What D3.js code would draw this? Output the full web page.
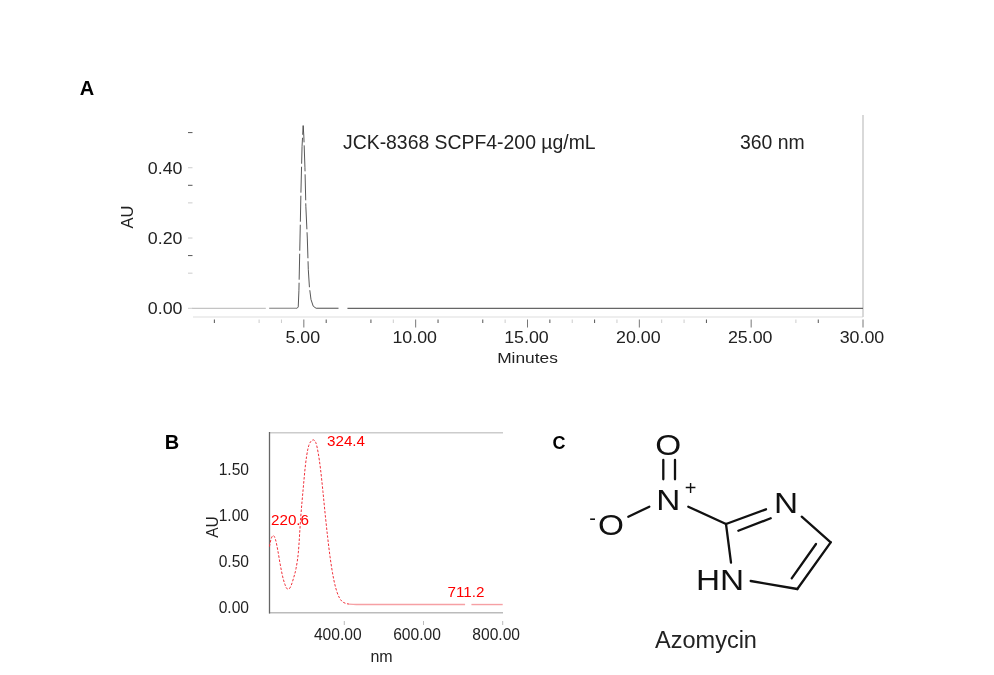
<!DOCTYPE html>
<html><head><meta charset="utf-8">
<script src="https://cdn.jsdelivr.net/npm/d3@7"></script>
<style>html,body{margin:0;background:#fff}svg{display:block;filter:blur(0.35px)}text{font-family:"Liberation Sans",Arial,sans-serif;fill:#222}</style>
</head><body><svg id="c" width="994" height="675"></svg>
<script>
// Panel A: chromatogram (minutes, AU)
const chromBaseLeft = [[0,0],[3.3,0]];
const chromBaseMid = [[3.45,0],[3.6,0],[4.2,0],[4.7,0]];
const chromPeak = [[4.7,0],[4.75,0.004],[4.78,0.05],[4.83,0.2],[4.87,0.33],[4.92,0.46],[4.97,0.52],[5.0,0.49],[5.05,0.4],[5.09,0.29],[5.155,0.2],[5.2,0.11],[5.25,0.06],[5.32,0.025],[5.42,0.006],[5.55,0]];
const chromBaseNear = [[5.55,0],[6.55,0]];
const chromBaseRight = [[6.95,0],[10,0],[15,0],[20,0],[25,0],[30,0]];
const timeLabels = [5,10,15,20,25,30];
const timeDark = [1,6,8,11,13,16,18,23,28];
const timeFaint = [3,4,9,14,17,19,21,22,27];
const auLabels = [0,0.2,0.4];
const auDark = [0.5,0.35,0.15];
const auFaint = [0.3,0.1];
// Panel B: UV spectrum (nm, AU)
const spectrumPeaks = [[211,0.66],[215,0.74],[220.6,0.78],[226,0.74],[232,0.62],[238,0.47],[244,0.34],[250,0.25],[256,0.2],[260,0.2],[266,0.24],[272,0.32],[278,0.42],[284,0.6],[290,0.98],[296,1.28],[302,1.55],[308,1.72],[315,1.8],[322,1.82],[328,1.79],[334,1.68],[340,1.5],[346,1.26],[352,1.0],[358,0.76],[364,0.55],[370,0.38],[376,0.25],[382,0.16],[388,0.1],[394,0.065],[402,0.045],[412,0.035]];
const spectrumTailA = [[412,0.035],[430,0.03],[500,0.03],[600,0.03],[705,0.03]];
const spectrumTailB = [[721,0.03],[760,0.03],[800,0.03]];
const nmLabels = [400,600,800];
const specLabels = [["220.6",220.6,0.89,"start"],["324.4",324.4,1.75,"start"],["711.2",711.2,0.115,"middle"]];
const specAuLabels = [0,0.5,1,1.5];
// Panel C: azomycin, in drawing units
const atoms = [["O",668.3,445],["N",668.3,500],["O",611,525],["N",786,503],["HN",720,579.5]];
const charges = [["+",690.5,488],["-",592.5,518]];
const bonds = [[663.3,460,663.3,479.3],[675,460,675,479.3],[628.3,516.7,649.3,506.7],[688.3,506.7,726,524],[726,524,766,509.3],[738.3,530.7,770.7,518.3],[726,524,731,562.7],[801.7,516.7,830.7,542.3],[830.7,542.3,797.3,589],[816,544,791.7,578.3],[750.7,581,797.3,589]];
const panelLetters = [["A",87,88,20],["B",172,442,20],["C",559,442,18]];

const svg = d3.select("#c");
const x = d3.scaleLinear().domain([0,30]).range([192,863]);
const y = d3.scaleLinear().domain([0,0.5]).range([308.3,132.6]);
const line = d3.line().x(d=>x(d[0])).y(d=>y(d[1]));
svg.append("line").attr("x1",193).attr("x2",863).attr("y1",317).attr("y2",317).attr("stroke","#ddd").attr("stroke-width",1.2);
svg.append("line").attr("x1",863).attr("x2",863).attr("y1",115).attr("y2",317).attr("stroke","#ccc").attr("stroke-width",1.5);
const baseline=(data,c)=>svg.append("path").attr("d",line(data)).attr("fill","none").attr("stroke",c).attr("stroke-width",1.3);
baseline(chromBaseLeft,"#c4c4c4"); baseline(chromBaseMid,"#999"); baseline(chromBaseNear,"#777"); baseline(chromBaseRight,"#666");
svg.append("path").attr("d",line(chromPeak)).attr("fill","none").attr("stroke","#444").attr("stroke-width",0.9).attr("stroke-dasharray","26 3");
const xt=(vals,c,len)=>svg.append("g").selectAll("line").data(vals).join("line").attr("x1",d=>x(d)).attr("x2",d=>x(d)).attr("y1",319.5).attr("y2",319.5+len).attr("stroke",c);
xt(timeDark,"#555",3.5); xt(timeFaint,"#ccc",3.5); xt(timeLabels,"#777",8);
const yt=(vals,c)=>svg.append("g").selectAll("line").data(vals).join("line").attr("x1",188).attr("x2",192.5).attr("y1",d=>y(d)).attr("y2",d=>y(d)).attr("stroke",c);
yt(auDark,"#555"); yt(auFaint,"#ccc"); yt(auLabels,"#ccc");
svg.append("g").selectAll("text").data(timeLabels).join("text").attr("transform",d=>`translate(${x(d)-1},342.5) scale(1.1,1)`).attr("text-anchor","middle").attr("font-size",16.2).text(d=>d3.format(".2f")(d));
svg.append("g").selectAll("text").data(auLabels).join("text").attr("transform",d=>`translate(182.5,${y(d)+5.8}) scale(1.1,1)`).attr("text-anchor","end").attr("font-size",16.2).text(d=>d3.format(".2f")(d));
svg.append("text").attr("transform","translate(527.5,363) scale(1.12,1)").attr("text-anchor","middle").attr("font-size",15.5).text("Minutes");
svg.append("text").attr("transform","translate(133,217) rotate(-90)").attr("text-anchor","middle").attr("font-size",16.5).text("AU");
svg.append("text").attr("x",343).attr("y",148.5).attr("font-size",19.4).text("JCK-8368 SCPF4-200 µg/mL");
svg.append("text").attr("x",740).attr("y",148.5).attr("font-size",19.4).text("360 nm");

const xs = d3.scaleLinear().domain([210.6,800]).range([269.3,502.7]);
const ys = d3.scaleLinear().domain([0,1.5]).range([607.3,469.3]);
const ls = d3.line().x(d=>xs(d[0])).y(d=>ys(d[1])).curve(d3.curveMonotoneX);
svg.append("line").attr("x1",269).attr("x2",503).attr("y1",432.7).attr("y2",432.7).attr("stroke","#ccc").attr("stroke-width",1.5);
svg.append("line").attr("x1",269).attr("x2",503).attr("y1",612.8).attr("y2",612.8).attr("stroke","#bbb").attr("stroke-width",1.6);
svg.append("line").attr("x1",269.5).attr("x2",269.5).attr("y1",432).attr("y2",613.5).attr("stroke","#666").attr("stroke-width",1.3);
svg.append("path").attr("d",ls(spectrumPeaks)).attr("fill","none").attr("stroke","#f0303a").attr("stroke-width",1).attr("stroke-dasharray","2.5 1.6");
[spectrumTailA,spectrumTailB].forEach(t=>svg.append("path").attr("d",ls(t)).attr("fill","none").attr("stroke","#f6a0a4").attr("stroke-width",1.4));
svg.append("g").selectAll("line").data(nmLabels).join("line").attr("x1",d=>xs(d)).attr("x2",d=>xs(d)).attr("y1",621).attr("y2",625).attr("stroke","#bbb");
svg.append("g").selectAll("text").data(nmLabels).join("text").attr("x",d=>xs(d)-6.5).attr("y",639.5).attr("text-anchor","middle").attr("font-size",15.6).text(d=>d3.format(".2f")(d));
svg.append("g").selectAll("text").data(specAuLabels).join("text").attr("x",249).attr("y",d=>ys(d)+5.5).attr("text-anchor","end").attr("font-size",15.6).text(d=>d3.format(".2f")(d));
svg.append("text").attr("transform","translate(218,527) rotate(-90)").attr("text-anchor","middle").attr("font-size",15.6).text("AU");
svg.append("text").attr("x",381.5).attr("y",662).attr("text-anchor","middle").attr("font-size",16).text("nm");
svg.append("g").selectAll("text").data(specLabels).join("text").attr("x",d=>d[3]==="start"?(d[0]==="220.6"?271:327):xs(d[1])-1.5).attr("y",d=>ys(d[2])).attr("text-anchor",d=>d[3]).attr("font-size",15.2).style("fill","#f00").text(d=>d[0]);

svg.append("g").selectAll("line").data(bonds).join("line").attr("x1",d=>d[0]).attr("y1",d=>d[1]).attr("x2",d=>d[2]).attr("y2",d=>d[3]).attr("stroke","#111").attr("stroke-width",2.3).attr("stroke-linecap","round");
svg.append("g").selectAll("text").data(atoms).join("text").attr("transform",d=>`translate(${d[1]},${d[2]+10}) scale(1.15,1)`).attr("text-anchor","middle").attr("font-size",29).style("fill","#111").text(d=>d[0]);
svg.append("g").selectAll("text").data(charges).join("text").attr("x",d=>d[1]).attr("y",d=>d[2]+6.5).attr("text-anchor","middle").attr("font-size",20).style("fill","#111").text(d=>d[0]);
svg.append("text").attr("x",706).attr("y",648).attr("text-anchor","middle").attr("font-size",23.5).text("Azomycin");
svg.append("g").selectAll("text").data(panelLetters).join("text").attr("x",d=>d[1]).attr("y",d=>d[2]+7).attr("text-anchor","middle").attr("font-weight","bold").attr("font-size",d=>d[3]).style("fill","#000").text(d=>d[0]);
</script></body></html>
